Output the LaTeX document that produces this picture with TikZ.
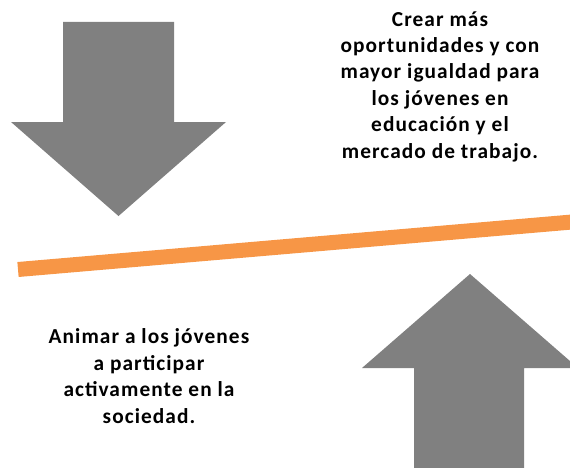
\documentclass[tikz,border=0pt]{standalone}
\usepackage{fontspec}
\setmainfont{Carlito}
\newfontfamily\captionfont[LetterSpace=5]{Carlito}
\definecolor{arrowgray}{HTML}{808080}
\definecolor{barorange}{HTML}{F79646}
\tikzset{
  bigarrow/.style={fill=arrowgray, draw=none},
  balancebar/.style={draw=barorange, line width=11.25pt},
  caption/.style={align=center, inner sep=0pt, font=\captionfont\fontsize{16pt}{19.8pt}\selectfont\bfseries}
}
\begin{document}
\begin{tikzpicture}[x=0.75pt, y=-0.75pt]
\useasboundingbox (0,0) rectangle (570,467);
\clip (0,0) rectangle (570,467);
% down arrow
\path[bigarrow] (63,22) -- (174,22) -- (174,122) -- (226,122) -- (118.5,216) -- (11,122) -- (63,122) -- cycle;
% up arrow
\path[bigarrow] (414,470) -- (524,470) -- (524,368) -- (578,368) -- (470,274) -- (362,368) -- (414,368) -- cycle;
% bar
\coordinate (barL) at (18,269.5);
\coordinate (barR) at (572,222);
\draw[balancebar] (barL) -- (barR);
% texts
\node[caption] (top) at (440,86.5) {Crear más\\oportunidades y con\\mayor igualdad para\\los jóvenes en\\educación y el\\mercado de trabajo.};
\node[caption] (bottom) at (149,376) {Animar a los jóvenes\\a participar\\activamente en la\\sociedad.};
\end{tikzpicture}
\end{document}
